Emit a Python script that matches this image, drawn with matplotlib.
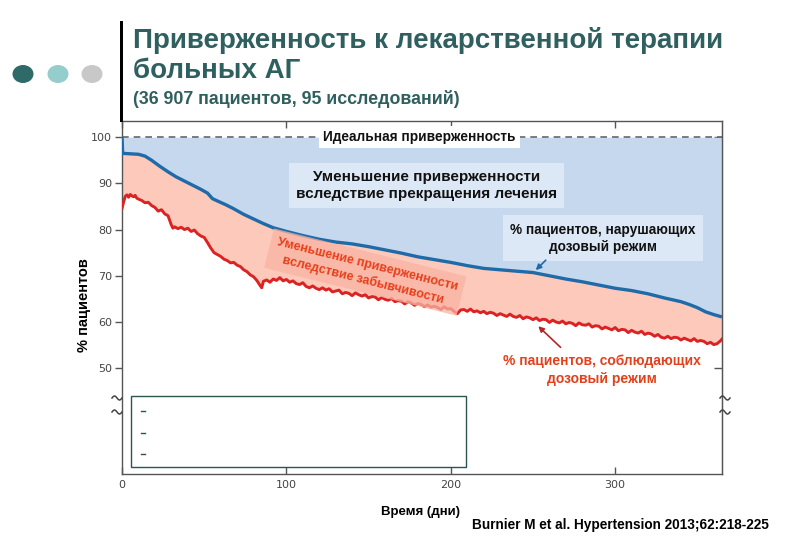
import matplotlib
matplotlib.use("Agg")
import matplotlib.pyplot as plt
from matplotlib.patches import Ellipse, Rectangle
from matplotlib.lines import Line2D
import numpy as np

# ---------------- data ----------------
blue_days = [0, 0.4, 5, 10, 14, 18, 23, 28, 33, 38, 43, 48, 52, 55, 58, 63, 68, 74, 80, 86, 92,
             100, 110, 120, 130, 140, 150, 160, 170, 180, 190, 200, 210, 220, 230, 240, 250,
             260, 270, 280, 290, 300, 310, 320, 330, 340, 345, 350, 355, 360, 365]
blue_vals = [100, 96.5, 96.4, 96.3, 95.9, 95.0, 93.7, 92.5, 91.4, 90.5, 89.6, 88.7, 87.9, 86.7,
             86.2, 85.4, 84.5, 83.3, 82.3, 81.3, 80.4, 79.6, 78.7, 77.9, 77.3, 76.9, 76.3, 75.6,
             74.9, 74.1, 73.5, 72.9, 72.2, 71.6, 71.3, 71.0, 70.7, 70.0, 69.3, 68.7, 68.0, 67.3,
             66.8, 66.1, 65.2, 64.4, 63.8, 63.1, 62.2, 61.6, 61.1]

red_days = [0, 1, 2, 3, 4, 5, 6, 7, 8, 9, 10,
            12, 14, 16, 18, 20, 22, 24, 26, 28, 30,
            31,
            32, 34, 36, 38, 40, 42, 44, 46, 48, 50, 52, 54, 56, 58, 60, 62, 64, 66, 68, 70, 72,
            74, 76, 78, 80, 82, 84,
            85,
            86, 88, 90, 92, 94, 96, 98,
            100, 102, 104, 106, 108, 110, 112, 114, 116, 118, 120, 122, 124, 126, 128, 130,
            132, 134, 136, 138, 140, 142, 144, 146, 148, 150, 152, 154, 156, 158, 160, 162,
            164, 166, 168, 170, 172, 174, 176, 178, 180, 182, 184, 186, 188, 190, 192, 194,
            196, 198, 200, 202, 204, 206, 208, 210, 212, 214, 216, 218, 220, 222, 224, 226,
            228, 230, 232, 234, 236, 238, 240, 242, 244, 246, 248, 250, 252, 254, 256, 258,
            260, 262, 264, 266, 268, 270, 272, 274, 276, 278, 280, 282, 284, 286, 288, 290,
            292, 294, 296, 298, 300, 302, 304, 306, 308, 310, 312, 314, 316, 318, 320, 322,
            324, 326, 328, 330, 332, 334, 336, 338, 340, 342, 344, 346, 348, 350, 352, 354,
            356, 358, 360, 362, 364, 365]
red_vals = [84.6, 86.0, 87.2, 87.5, 87.0, 87.6, 87.3, 87.1, 87.4, 86.8, 86.6,
            86.3, 85.8, 85.9, 85.2, 84.8, 84.0, 84.3, 83.4, 83.0, 81.0,
            80.3,
            80.6, 80.2, 80.5, 80.0, 80.3, 79.6, 79.9, 79.1, 78.6, 78.3, 77.2, 76.0, 75.0, 74.6,
            74.2, 73.6, 73.3, 72.8, 72.9, 72.3, 72.0, 71.3, 70.9, 70.2, 69.8, 69.0, 67.9,
            67.4,
            68.8, 69.1, 68.6, 69.3, 69.0, 69.6, 68.9,
            69.2, 68.6, 68.9, 68.3, 68.1, 68.5, 67.7, 67.4, 67.8, 67.3, 67.0, 67.4, 66.9, 67.2,
            66.5, 66.7, 66.9, 66.1, 66.4, 66.2, 65.7, 66.3, 65.9, 65.6, 65.9, 65.2, 65.5, 65.4,
            64.8, 65.3, 64.9, 64.7, 65.1, 64.4, 64.6, 64.5, 63.9, 64.4, 64.1, 63.6, 64.0, 63.8,
            63.3, 63.7, 63.2, 63.4, 63.1, 62.7, 63.3, 62.8, 62.9, 62.3, 61.8, 62.6, 62.7, 62.3,
            62.8, 62.2, 62.4, 62.0, 62.3, 61.8, 62.1, 61.9, 61.4, 61.8, 61.5, 61.2, 61.7, 61.2,
            61.0, 61.4, 60.7, 61.1, 60.9, 60.5, 60.9, 60.3, 60.6, 60.5, 59.9, 60.4, 60.0, 59.8,
            60.2, 59.6, 59.9, 59.7, 59.2, 59.8, 59.4, 59.3, 59.6, 58.9, 59.2, 59.1, 58.5, 58.9,
            58.6, 58.3, 58.8, 58.1, 58.4, 58.3, 57.7, 58.2, 57.8, 57.6, 58.0, 57.3, 57.6, 57.4,
            56.9, 57.3, 56.7, 56.5, 56.9, 56.4, 56.7, 56.6, 56.1, 56.5, 56.2, 55.9, 56.4, 55.8,
            56.0, 55.8, 55.3, 55.6, 55.1, 55.3, 55.9, 56.3]
assert len(red_days) == len(red_vals)
assert len(blue_days) == len(blue_vals)

yticks = [50, 60, 70, 80, 90, 100]
xticks = [0, 100, 200, 300]

# ---------------- figure ----------------
W, H = 810, 540
fig = plt.figure(figsize=(W / 100, H / 100), dpi=100)
fig.patch.set_facecolor("white")

def fx(px):
    return px / W

def fy(py):
    return 1 - py / H

ax = fig.add_axes([fx(122), fy(474), (722 - 122) / W, (474 - 121) / H])
ax.set_xlim(0, 365)
ax.set_ylim(27.1, 103.5)

BLUE_FILL = "#c6d8ee"
PINK_FILL = "#fcc9ba"
BLUE_LINE = "#1f6aa8"
RED_LINE = "#dc2222"
LS = "Liberation Sans"

ax.fill_between(blue_days, blue_vals, 100, color=BLUE_FILL, lw=0, zorder=1)
ax.fill(list(blue_days) + red_days[::-1], list(blue_vals) + red_vals[::-1],
        color=PINK_FILL, lw=0, zorder=1)
ax.axhline(100, color="#666666", lw=1.2, ls=(0, (4, 3)), zorder=2)
ax.plot(red_days, red_vals, color=RED_LINE, lw=2.1, zorder=3)
ax.plot(blue_days, blue_vals, color=BLUE_LINE, lw=2.4, zorder=4, solid_capstyle="butt")

# spines and ticks
for s in ax.spines.values():
    s.set_color("#555555")
    s.set_linewidth(1.0)
ax.set_yticks(yticks)
ax.set_xticks(xticks)
ax.tick_params(axis="y", direction="out", length=5, width=1, color="#555555",
               labelsize=8, labelcolor="#444444", pad=2)
ax.tick_params(axis="x", direction="in", length=5, width=1, color="#555555",
               labelsize=8, labelcolor="#444444", pad=4, top=True)
sec = ax.secondary_yaxis("right")
sec.set_yticks(yticks)
sec.tick_params(direction="in", length=6, width=1, color="#555555", labelright=False)
sec.spines["right"].set_color("#555555")

# text boxes
ax.text(181, 100, "Идеальная приверженность", ha="center", va="center", fontsize=9.8,
        fontweight="bold", family=LS, color="#111111", zorder=6,
        bbox=dict(boxstyle="square,pad=0.3", fc="white", ec="none"))
ax.text(185.5, 89.6, "Уменьшение приверженности\nвследствие прекращения лечения",
        ha="center", va="center", fontsize=11, fontweight="bold", family=LS,
        color="#111111", linespacing=1.3, zorder=6,
        bbox=dict(boxstyle="square,pad=0.45", fc="#dde8f6", ec="none"))
ax.text(292.6, 78.1, "% пациентов, нарушающих\nдозовый режим", ha="center", va="center",
        fontsize=9.8, fontweight="bold", family=LS, color="#111111", linespacing=1.3,
        zorder=6, bbox=dict(boxstyle="square,pad=0.55", fc="#dce8f6", ec="none"))
ax.text(292, 49.6, "% пациентов, соблюдающих\nдозовый режим", ha="center", va="center",
        fontsize=10, fontweight="bold", family=LS, color="#e4401c", linespacing=1.4,
        zorder=6)
ax.text(148, 70.8, "Уменьшение приверженности\nвследствие забывчивости", ha="center",
        va="center", fontsize=9, fontweight="bold", family=LS, color="#e8401c",
        rotation=-14, rotation_mode="anchor", linespacing=1.3, zorder=5,
        bbox=dict(boxstyle="square,pad=0.5", fc="#f9b3a3", ec="none", alpha=0.75))

ax.annotate("", xy=(250.5, 70.8), xytext=(259, 73.8),
            arrowprops=dict(arrowstyle="-|>", color=BLUE_LINE, lw=1.2, mutation_scale=8),
            zorder=7)
ax.annotate("", xy=(252, 59.5), xytext=(268, 54.1),
            arrowprops=dict(arrowstyle="-|>", color="#b02828", lw=1.2, mutation_scale=8),
            zorder=7)

# lower empty box with dashes
ax.add_patch(Rectangle((5.5, 28.6), 209.3 - 5.5, 43.9 - 28.6, fc="white", ec="#2d5252",
                       lw=1, zorder=6))
for yv in [40.7, 35.9, 31.4]:
    ax.plot([11.5, 14], [yv, yv], color="#2d5252", lw=1, zorder=7)

# axis break marks (small waves across both vertical spines)
wave_t = np.linspace(0, 1, 20)
for cxp in [117, 725]:
    for cyp in [398, 412]:
        xs = [fx(cxp - 5 + 10 * t) for t in wave_t]
        ys = [fy(cyp - 2.0 * np.sin(2 * np.pi * t)) for t in wave_t]
        fig.add_artist(Line2D(xs, ys, color="#444444", lw=1.1, transform=fig.transFigure))

# axis labels
fig.text(fx(84), fy(305), "% пациентов", rotation=90, ha="center", va="center",
         fontsize=10.5, fontweight="bold", family=LS)
fig.text(fx(421), fy(512), "Время (дни)", ha="center", va="center", fontsize=9.5,
         fontweight="bold", family=LS)
fig.text(fx(620), fy(525), "Burnier M et al. Hypertension 2013;62:218-225", ha="center",
         va="center", fontsize=9.8, fontweight="bold", family=LS)

# title area
TEAL = "#2f5f5f"
fig.text(fx(133), fy(48), "Приверженность к лекарственной терапии", ha="left",
         va="baseline", fontsize=20, fontweight="bold", color=TEAL,
         family=["Liberation Sans Narrow", "Liberation Sans"])
fig.text(fx(133), fy(78), "больных АГ", ha="left", va="baseline", fontsize=20,
         fontweight="bold", color=TEAL, family=["Liberation Sans Narrow", "Liberation Sans"])
fig.text(fx(133), fy(104), "(36 907 пациентов, 95 исследований)", ha="left", va="baseline",
         fontsize=12.8, fontweight="bold", color=TEAL,
         family=["Liberation Sans Narrow", "Liberation Sans"])

fig.add_artist(Rectangle((fx(120), fy(122)), 2.5 / W, (122 - 21) / H, fc="black", ec="none",
                         transform=fig.transFigure))
for cx, col in [(23, "#2e6b68"), (58, "#95cdcd"), (92, "#c8c8c8")]:
    fig.add_artist(Ellipse((fx(cx), fy(74)), 21 / W, 18 / H, fc=col, ec="none",
                           transform=fig.transFigure))

fig.savefig("out.png", dpi=100)
